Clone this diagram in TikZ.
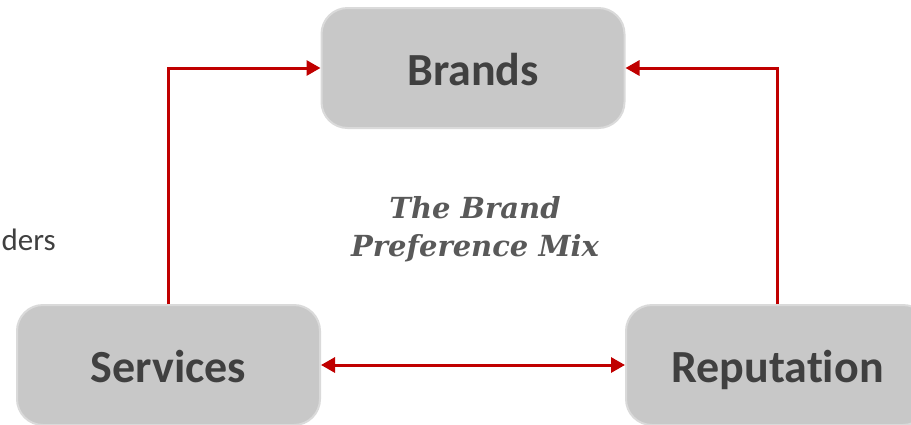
\documentclass[tikz,border=0pt]{standalone}
\usepackage{fontspec}
\setmainfont[Ligatures=NoCommon]{Carlito}
\newfontfamily\titlefont{DejaVu Serif}
\usetikzlibrary{arrows.meta}
\definecolor{boxfill}{HTML}{C8C8C8}
\definecolor{boxline}{HTML}{DADADA}
\definecolor{txtgray}{HTML}{404040}
\definecolor{titlegray}{HTML}{595959}
\definecolor{linkred}{HTML}{C00000}
\tikzset{
  box/.style={draw=boxline, line width=2pt, fill=boxfill, rounded corners=26pt,
    minimum width=303pt, minimum height=120pt, inner sep=0pt,
    text height=34pt, text depth=0pt,
    text=txtgray, font=\fontsize{46}{50}\selectfont\bfseries},
  link/.style={draw=linkred, line width=3pt, -{Triangle[length=14pt,width=15pt]}},
  dlink/.style={draw=linkred, line width=3pt, {Triangle[length=14pt,width=15pt]}-{Triangle[length=14pt,width=15pt]}}
}
\begin{document}
\begin{tikzpicture}[x=1pt,y=-1pt]
\useasboundingbox (0,0) rectangle (911,424);
\node[box] (brands) at (473,68) {Brands};
\node[box] (services) at (168.5,365) {Services};
\node[box] (reputation) at (777.5,365) {Reputation};
\node[anchor=east, text=txtgray, font=\fontsize{31}{36}\selectfont, inner sep=0pt] (ders) at (56,240) {ders};
\node[text=titlegray, align=center, font=\titlefont\fontsize{29}{38}\selectfont\bfseries\itshape, inner sep=0pt] (title) at (475,229) {The Brand\\Preference Mix};
\coordinate (lc) at (services.north |- brands.west);
\coordinate (rc) at (reputation.north |- brands.east);
\draw[link] (services.north) -- (lc) -- (brands.west);
\draw[link] (reputation.north) -- (rc) -- (brands.east);
\draw[dlink] (services.east) -- (reputation.west);
\end{tikzpicture}
\end{document}
